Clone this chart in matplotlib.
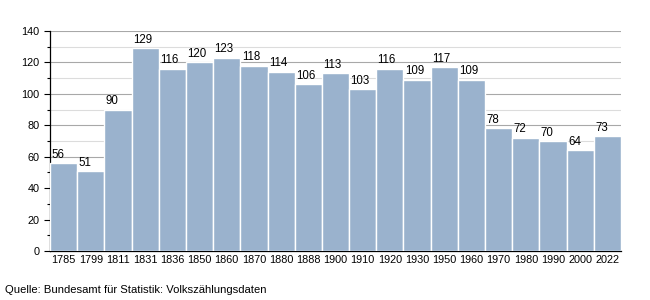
import matplotlib
matplotlib.use("Agg")
import matplotlib.pyplot as plt
from matplotlib.ticker import MultipleLocator

years = ["1785", "1799", "1811", "1831", "1836", "1850", "1860", "1870", "1880", "1888",
         "1900", "1910", "1920", "1930", "1950", "1960", "1970", "1980", "1990", "2000", "2022"]
population = [56, 51, 90, 129, 116, 120, 123, 118, 114, 106,
              113, 103, 116, 109, 117, 109, 78, 72, 70, 64, 73]
source = "Quelle: Bundesamt für Statistik: Volkszählungsdaten"

plt.rcParams["font.family"] = ["Liberation Sans", "DejaVu Sans"]

fig = plt.figure(figsize=(6.5, 3.0), dpi=100)
ax = fig.add_axes([50 / 650, 49 / 300, 571 / 650, 220 / 300])

x = list(range(len(years)))
ax.bar(x, population, width=1.0, color="#9ab2cd", edgecolor="white", linewidth=1.0, zorder=3)
for xi, v in zip(x, population):
    ax.text(xi - 0.45, v + 1.5, str(v), ha="left", va="bottom", fontsize=8.3, zorder=4)

ax.set_xlim(-0.5, len(years) - 0.5)
ax.set_ylim(0, 140)
ax.set_xticks(x)
ax.set_xticklabels(years, fontsize=7.8)
ax.tick_params(axis="x", length=0, pad=3)
ax.yaxis.set_major_locator(MultipleLocator(20))
ax.yaxis.set_minor_locator(MultipleLocator(10))
ax.tick_params(axis="y", which="major", labelsize=7.8, length=4, width=0.8)
ax.tick_params(axis="y", which="minor", length=2.5, width=0.8)
ax.grid(axis="y", which="major", color="#a8a8a8", lw=0.8, zorder=0)
ax.grid(axis="y", which="minor", color="#dcdcdc", lw=0.8, zorder=0)
for s in ("top", "right"):
    ax.spines[s].set_visible(False)
ax.spines["left"].set_linewidth(0.9)
ax.spines["bottom"].set_linewidth(0.9)

fig.text(5 / 650, 1 - 290 / 300, source, fontsize=8.1, va="center", ha="left")

fig.savefig("out.png", dpi=100, facecolor="white")
